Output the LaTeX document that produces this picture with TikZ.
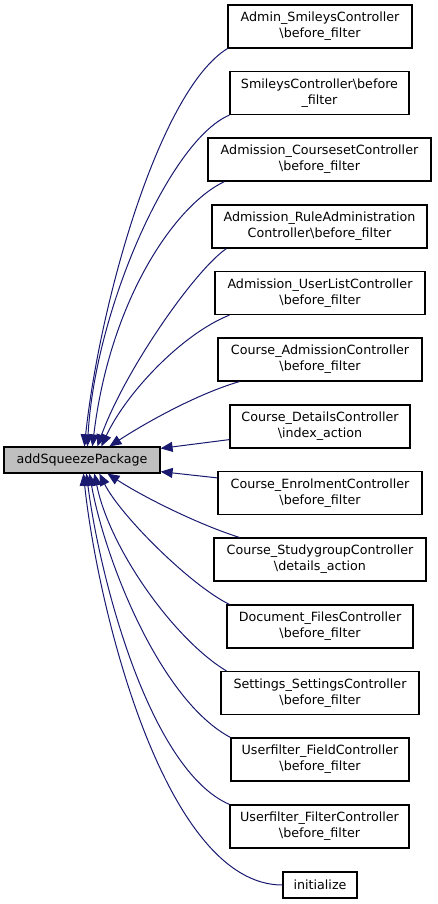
\documentclass[tikz,border=0pt]{standalone}
\usepackage{fontspec}
\setmainfont{DejaVu Sans}
\usetikzlibrary{arrows.meta}
\definecolor{edgec}{HTML}{191970}
\definecolor{mainfill}{HTML}{BFBFBF}
\begin{document}
\begin{tikzpicture}[x=1pt,y=-1pt,
  box/.style={draw=black, line width=1.2pt, fill=white, minimum height=43pt, inner sep=0pt, align=center, font=\fontsize{12.7pt}{15.7pt}\selectfont},
  mainbox/.style={box, fill=mainfill, minimum height=26pt},
  edge/.style={draw=edgec, line width=1pt, -{Triangle[length=12pt,width=10pt]}}]
\useasboundingbox (0,0) rectangle (437,904);
\node[mainbox, minimum width=156pt] (m) at (82,460) {addSqueezePackage};
\node[box, minimum width=184pt] (b1) at (320,26.5) {Admin\_SmileysController\\\textbackslash before\_filter};
\node[box, minimum width=179pt] (b2) at (319.5,93) {SmileysController\textbackslash before\\\_filter};
\node[box, minimum width=223pt] (b3) at (319.5,159.5) {Admission\_CoursesetController\\\textbackslash before\_filter};
\node[box, minimum width=215pt] (b4) at (319.5,226.5) {Admission\_RuleAdministration\\Controller\textbackslash before\_filter};
\node[box, minimum width=210pt] (b5) at (320,293) {Admission\_UserListController\\\textbackslash before\_filter};
\node[box, minimum width=204pt] (b6) at (320,359.5) {Course\_AdmissionController\\\textbackslash before\_filter};
\node[box, minimum width=180pt] (b7) at (320,426.5) {Course\_DetailsController\\\textbackslash index\_action};
\node[box, minimum width=204pt] (b8) at (320,493) {Course\_EnrolmentController\\\textbackslash before\_filter};
\node[box, minimum width=212pt] (b9) at (320,559.5) {Course\_StudygroupController\\\textbackslash details\_action};
\node[box, minimum width=186pt] (b10) at (320,626.5) {Document\_FilesController\\\textbackslash before\_filter};
\node[box, minimum width=198pt] (b11) at (320,693) {Settings\_SettingsController\\\textbackslash before\_filter};
\node[box, minimum width=178pt] (b12) at (320,759.5) {Userfilter\_FieldController\\\textbackslash before\_filter};
\node[box, minimum width=179pt] (b13) at (319.5,826.5) {Userfilter\_FilterController\\\textbackslash before\_filter};
\node[box, minimum width=74pt, minimum height=26pt] (b14) at (320,885) {initialize};

\draw[edge] (b1.south west) .. controls (160,90) and (100,300) .. ([xshift=81pt]m.north west);
\draw[edge] (b2.south west) .. controls (170,140) and (95,310) .. ([xshift=84pt]m.north west);
\draw[edge] ([xshift=17pt]b3.south west) .. controls (175,205) and (110,300) .. ([xshift=89pt]m.north west);
\draw[edge] ([xshift=15pt]b4.south west) .. controls (195,270) and (125,370) .. ([xshift=94pt]m.north west);
\draw[edge] ([xshift=15pt]b5.south west) .. controls (180,335) and (125,395) .. ([xshift=98pt]m.north west);
\draw[edge] ([xshift=22pt]b6.south west) .. controls (200,393) and (150,420) .. ([xshift=106pt]m.north west);
\draw[edge] ([yshift=9pt]b7.south west) -- ([yshift=-2pt]m.north east);
\draw[edge] ([yshift=-7pt]b8.north west) -- ([yshift=2pt]m.south east);
\draw[edge] ([xshift=26pt]b9.north west) .. controls (200,525) and (145,498) .. ([xshift=104pt]m.south west);
\draw[edge] ([xshift=3pt]b10.north west) .. controls (190,585) and (120,515) .. ([xshift=96pt]m.south west);
\draw[edge] ([xshift=6pt]b11.north west) .. controls (175,640) and (110,550) .. ([xshift=91pt]m.south west);
\draw[edge] (b12.north west) .. controls (160,700) and (105,560) .. ([xshift=86pt]m.south west);
\draw[edge] (b13.north west) .. controls (150,770) and (100,580) .. ([xshift=83pt]m.south west);
\draw[edge] (b14.west) .. controls (165,885) and (98,610) .. ([xshift=80pt]m.south west);
\end{tikzpicture}
\end{document}
